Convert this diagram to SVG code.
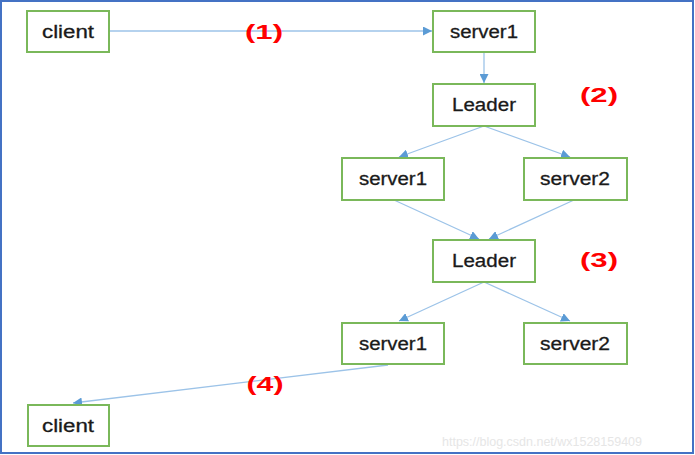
<svg xmlns="http://www.w3.org/2000/svg" width="695" height="455" viewBox="0 0 695 455">
<style>
.box{fill:#fff;stroke:#7ab85a;stroke-width:2}
.t{font-family:"Liberation Sans",Arial,sans-serif;font-size:18px;fill:#1a1a1a;stroke:#1a1a1a;stroke-width:0.3;text-anchor:middle}
.lbl{font-family:"Liberation Sans",Arial,sans-serif;font-size:21px;font-weight:bold;fill:#ff0000;text-anchor:middle}
.ln{stroke:#9cc3e8;stroke-width:1.3;fill:none;marker-end:url(#ah)}
</style>
<defs>
<marker id="ah" viewBox="0 0 10 10" refX="10" refY="5" markerWidth="9" markerHeight="9" markerUnits="userSpaceOnUse" orient="auto">
<path d="M0,0 L10,5 L0,10 Z" fill="#5b9bd5"/>
</marker>
</defs>
<rect x="1" y="1" width="692" height="452" fill="#fff" stroke="#4472c4" stroke-width="2"/>
<g id="connectors">
<line class="ln" x1="109" y1="31" x2="432" y2="31"/>
<line class="ln" x1="484" y1="52" x2="484" y2="83"/>
<line class="ln" x1="484" y1="126" x2="399" y2="157"/>
<line class="ln" x1="484" y1="126" x2="570" y2="157"/>
<line class="ln" x1="394" y1="200" x2="479" y2="239"/>
<line class="ln" x1="574" y1="200" x2="489" y2="239"/>
<line class="ln" x1="484" y1="282" x2="399" y2="321"/>
<line class="ln" x1="484" y1="282" x2="570" y2="321"/>
<line class="ln" x1="388" y1="365" x2="73" y2="403"/>
</g>
<g id="client1"><rect class="box" x="27" y="11" width="82" height="41"/><text class="t" x="68" y="38" textLength="52" lengthAdjust="spacingAndGlyphs">client</text></g>
<g id="server1a"><rect class="box" x="433" y="11" width="102" height="41"/><text class="t" x="484" y="38" textLength="68" lengthAdjust="spacingAndGlyphs">server1</text></g>
<g id="leader1"><rect class="box" x="433" y="84" width="102" height="42"/><text class="t" x="484" y="111" textLength="64" lengthAdjust="spacingAndGlyphs">Leader</text></g>
<g id="server1b"><rect class="box" x="342" y="158" width="102" height="42"/><text class="t" x="393" y="185" textLength="68" lengthAdjust="spacingAndGlyphs">server1</text></g>
<g id="server2b"><rect class="box" x="524" y="158" width="103" height="42"/><text class="t" x="575" y="185" textLength="70" lengthAdjust="spacingAndGlyphs">server2</text></g>
<g id="leader2"><rect class="box" x="433" y="240" width="102" height="42"/><text class="t" x="484" y="267" textLength="64" lengthAdjust="spacingAndGlyphs">Leader</text></g>
<g id="server1c"><rect class="box" x="342" y="323" width="102" height="41"/><text class="t" x="393" y="350" textLength="68" lengthAdjust="spacingAndGlyphs">server1</text></g>
<g id="server2c"><rect class="box" x="524" y="323" width="103" height="41"/><text class="t" x="575" y="350" textLength="70" lengthAdjust="spacingAndGlyphs">server2</text></g>
<g id="client2"><rect class="box" x="28" y="405" width="81" height="41"/><text class="t" x="68" y="432" textLength="52" lengthAdjust="spacingAndGlyphs">client</text></g>
<g id="labels">
<text class="lbl" x="264" y="39" textLength="38" lengthAdjust="spacingAndGlyphs">(1)</text>
<text class="lbl" x="599" y="102" textLength="38" lengthAdjust="spacingAndGlyphs">(2)</text>
<text class="lbl" x="599" y="267" textLength="38" lengthAdjust="spacingAndGlyphs">(3)</text>
<text class="lbl" x="265" y="391" textLength="37" lengthAdjust="spacingAndGlyphs">(4)</text>
</g>
<text x="542" y="446" font-family="'Liberation Sans',Arial,sans-serif" font-size="12" fill="#e6e6e6" text-anchor="middle" textLength="200" lengthAdjust="spacingAndGlyphs">https://blog.csdn.net/wx1528159409</text>
</svg>
